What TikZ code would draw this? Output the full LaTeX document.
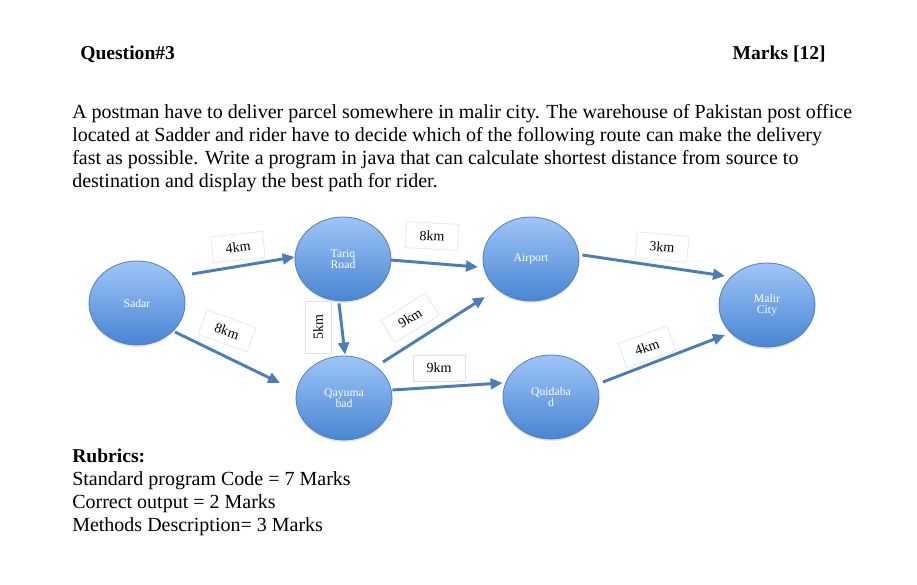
\documentclass[tikz,border=0pt]{standalone}
\usepackage{fontspec}
\setmainfont{Liberation Serif}
\usetikzlibrary{positioning,arrows.meta,calc,shapes.geometric,shadows}
\definecolor{nodetop}{RGB}{158,197,248}
\definecolor{nodebot}{RGB}{72,133,210}
\definecolor{nodeedge}{RGB}{79,129,189}
\definecolor{linkblue}{RGB}{74,126,187}

\begin{document}
\begin{tikzpicture}[x=0.75pt,y=-0.75pt,
    place/.style={ellipse,minimum width=72pt,minimum height=63pt,inner sep=0pt,
        top color=nodetop,bottom color=nodebot,draw=nodeedge,line width=0.6pt,
        text=white,font=\fontsize{8.8}{8.6}\selectfont,align=center,
        drop shadow={opacity=0.2,shadow xshift=0pt,shadow yshift=-1.5pt}},
    link/.style={-{Triangle[length=9pt,width=8pt]},line width=2.2pt,draw=linkblue},
    dist/.style={draw=black!12,fill=white,minimum width=39pt,minimum height=19.5pt,
        inner sep=0pt,font=\fontsize{10.5}{12}\selectfont},
    body/.style={anchor=base west,inner sep=0pt,font=\fontsize{15}{17}\selectfont},
    head/.style={inner sep=0pt,font=\fontsize{14.7}{17}\selectfont\bfseries}
]
\useasboundingbox (0,0) rectangle (917,585);

\node[head,anchor=base west] (qno) at (80,60) {Question\#3};
\node[head,anchor=base east] (marks) at (826,60) {Marks [12]};

\node[body] (p1) at (72,118) {A postman have to deliver parcel somewhere in malir city. The warehouse of Pakistan post office};
\node[body] (p2) at (72,141) {located at Sadder and rider have to decide which of the following route can make the delivery};
\node[body] (p3) at (72,164) {fast as possible. Write a program in java that can calculate shortest distance from source to};
\node[body] (p4) at (72,187) {destination and display the best path for rider.};

\node[place] (sadar) at (137,303) {Sadar};
\node[place] (tariq) at (343,259) {Tariq\\Road};
\node[place] (qayuma) at (344,398) {Qayuma\\bad};
\node[place] (airport) at (531,259) {Airport};
\node[place] (quidabad) at (551,397) {Quidaba\\d};
\node[place] (malir) at (767,305) {Malir\\City};

\draw[link] ($(sadar)+(55,-29)$) -- ($(tariq.west)+(0,-2)$);
\draw[link] ($(sadar)+(38,29)$) -- ($(qayuma)+(-64,-15)$);
\draw[link] ($(tariq.east)+(-1,1)$) -- ($(airport)+(-53,8)$);
\draw[link] ($(tariq.south)+(-4,2)$) -- ($(qayuma.north)+(1,-1)$);
\draw[link] ($(qayuma)+(39,-36)$) -- ($(airport)+(-46,38)$);
\draw[link] ($(qayuma.east)+(0,-8)$) -- ($(quidabad.west)+(0,-14)$);
\draw[link] ($(airport.east)+(3,-4)$) -- ($(malir)+(-42,-29)$);
\draw[link] ($(quidabad)+(52,-15)$) -- ($(malir)+(-42,30)$);

\node[dist,rotate=6] (d1) at (238,247) {4km};
\node[dist,rotate=-20] (d2) at (227,331) {8km};
\node[dist,rotate=90] (d3) at (318,327) {5km};
\node[dist,rotate=-3] (d4) at (432,236) {8km};
\node[dist,rotate=32] (d5) at (410,318) {9km};
\node[dist] (d6) at (439,368) {9km};
\node[dist,rotate=-5] (d7) at (662,247) {3km};
\node[dist,rotate=20] (d8) at (647,347) {4km};

\node[head,anchor=base west] (rub) at (72,462) {Rubrics:};
\node[body] (r1) at (72,485) {Standard program Code = 7 Marks};
\node[body] (r2) at (72,508) {Correct output = 2 Marks};
\node[body] (r3) at (72,531) {Methods Description= 3 Marks};

\end{tikzpicture}
\end{document}
